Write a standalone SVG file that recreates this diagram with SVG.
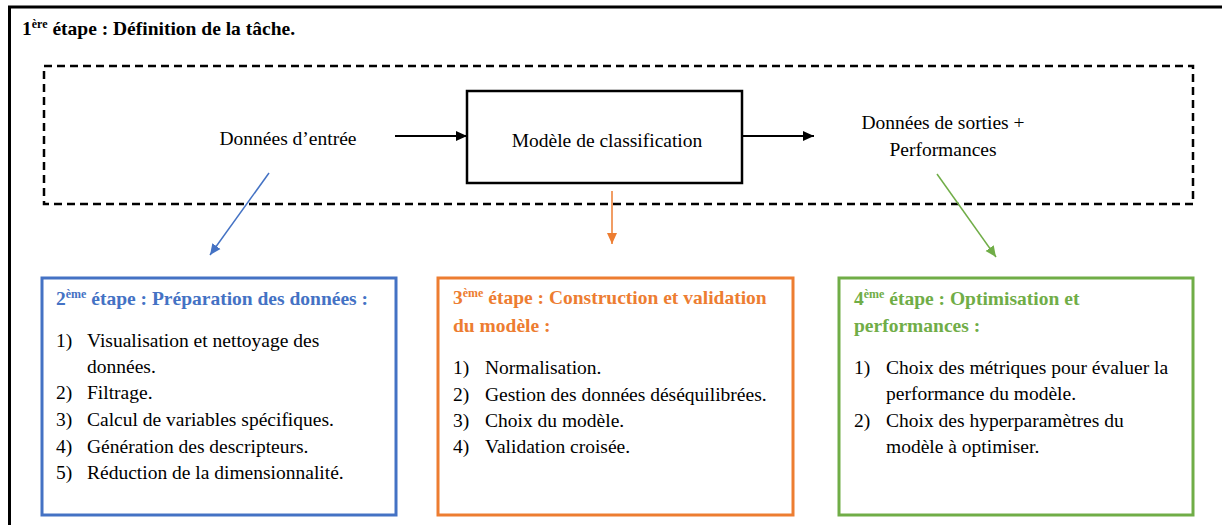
<svg xmlns="http://www.w3.org/2000/svg" width="1222" height="525" viewBox="0 0 1222 525">
<defs>
<style>
text{font-size:19.5px;fill:#000}
.b{font-weight:bold}
.sup{font-size:12px}
.blue{fill:#4472C4}.orange{fill:#ED7D31}.green{fill:#70AD47}
.frame{fill:none;stroke:#000;stroke-width:3}
.dash{fill:none;stroke:#000;stroke-width:2.5;stroke-dasharray:8 5}
.box{fill:#fff;stroke-width:3}
</style>
<marker id="ak" markerUnits="userSpaceOnUse" markerWidth="12" markerHeight="12" refX="11" refY="6" orient="auto"><path d="M0,1 L11,6 L0,11 Z" fill="#000"/></marker>
<marker id="ab" markerUnits="userSpaceOnUse" markerWidth="12" markerHeight="12" refX="11" refY="6" orient="auto"><path d="M0,1 L11,6 L0,11 Z" fill="#4472C4"/></marker>
<marker id="ao" markerUnits="userSpaceOnUse" markerWidth="12" markerHeight="12" refX="11" refY="6" orient="auto"><path d="M0,1 L11,6 L0,11 Z" fill="#ED7D31"/></marker>
<marker id="ag" markerUnits="userSpaceOnUse" markerWidth="12" markerHeight="12" refX="11" refY="6" orient="auto"><path d="M0,1 L11,6 L0,11 Z" fill="#70AD47"/></marker>
</defs>
<rect width="1222" height="525" fill="#fff"/>
<g font-family="Liberation Serif, DejaVu Serif, serif">
<g id="frame">
<path class="frame" d="M9.5,525 V7 H1222"/>
<text class="b" x="22" y="35">1<tspan class="sup" dy="-7">ère</tspan><tspan dy="7"> étape : Définition de la tâche.</tspan></text>
</g>
<g id="task">
<rect class="dash" x="44" y="66" width="1149" height="138"/>
</g>
<g id="input"><text x="288" y="145" text-anchor="middle">Données d’entrée</text></g>
<g id="model">
<rect x="467" y="91" width="275" height="92" fill="#fff" stroke="#000" stroke-width="2.5"/>
<text x="607" y="147" text-anchor="middle">Modèle de classification</text>
</g>
<g id="output">
<text x="943" y="129" text-anchor="middle">Données de sorties +</text>
<text x="943" y="156" text-anchor="middle">Performances</text>
</g>
<g id="connectors" fill="none" stroke-width="1.5">
<line x1="395" y1="136" x2="467" y2="136" stroke="#000" stroke-width="2" marker-end="url(#ak)"/>
<line x1="742" y1="136" x2="814" y2="136" stroke="#000" stroke-width="2" marker-end="url(#ak)"/>
<line x1="269" y1="173" x2="210" y2="255" stroke="#4472C4" marker-end="url(#ab)"/>
<line x1="612" y1="191" x2="612" y2="244" stroke="#ED7D31" marker-end="url(#ao)"/>
<line x1="937" y1="174" x2="996" y2="257" stroke="#70AD47" marker-end="url(#ag)"/>
</g>
<g id="step2">
<rect class="box" x="42" y="278" width="354" height="237" stroke="#4472C4"/>
<text class="b blue" x="56" y="305">2<tspan class="sup" dy="-7">ème</tspan><tspan dy="7"> étape : Préparation des données :</tspan></text>
<text x="56" y="347">1)</text><text x="87" y="347">Visualisation et nettoyage des</text>
<text x="87" y="373">données.</text>
<text x="56" y="399">2)</text><text x="87" y="399">Filtrage.</text>
<text x="56" y="426">3)</text><text x="87" y="426">Calcul de variables spécifiques.</text>
<text x="56" y="453">4)</text><text x="87" y="453">Génération des descripteurs.</text>
<text x="56" y="479">5)</text><text x="87" y="479">Réduction de la dimensionnalité.</text>
</g>
<g id="step3">
<rect class="box" x="438" y="278" width="355" height="237" stroke="#ED7D31"/>
<text class="b orange" x="453" y="304">3<tspan class="sup" dy="-7">ème</tspan><tspan dy="7"> étape : Construction et validation</tspan></text>
<text class="b orange" x="453" y="332">du modèle :</text>
<text x="453" y="374">1)</text><text x="485" y="374">Normalisation.</text>
<text x="453" y="401">2)</text><text x="485" y="401">Gestion des données déséquilibrées.</text>
<text x="453" y="427">3)</text><text x="485" y="427">Choix du modèle.</text>
<text x="453" y="453">4)</text><text x="485" y="453">Validation croisée.</text>
</g>
<g id="step4">
<rect class="box" x="839" y="278" width="354" height="237" stroke="#70AD47"/>
<text class="b green" x="854" y="305">4<tspan class="sup" dy="-7">ème</tspan><tspan dy="7"> étape : Optimisation et</tspan></text>
<text class="b green" x="854" y="332">performances :</text>
<text x="854" y="374">1)</text><text x="886" y="374">Choix des métriques pour évaluer la</text>
<text x="886" y="400">performance du modèle.</text>
<text x="854" y="427">2)</text><text x="886" y="427">Choix des hyperparamètres du</text>
<text x="886" y="453">modèle à optimiser.</text>
</g>
</g>
</svg>
